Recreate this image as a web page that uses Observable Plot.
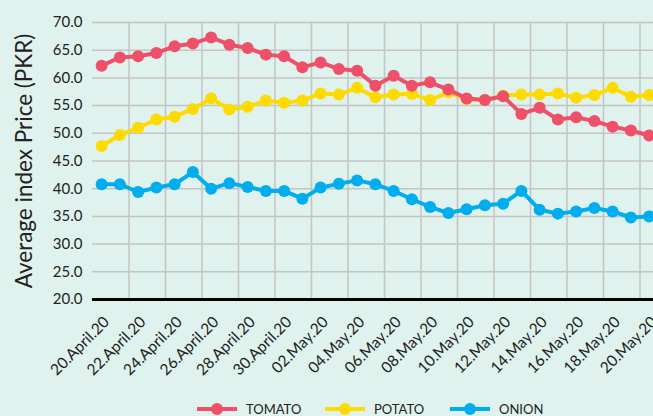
<!DOCTYPE html>
<html><head><meta charset="utf-8">
<script src="https://cdn.jsdelivr.net/npm/d3@7"></script>
<script src="https://cdn.jsdelivr.net/npm/@observablehq/plot@0.6"></script>
<style>
html,body{margin:0;padding:0;background:#dff2ed;overflow:hidden;width:653px;height:416px;font-family:Lato,sans-serif;}
#chart svg{display:block;}
#legend{position:absolute;left:0;top:400px;width:653px;height:18px;}
.item{position:absolute;top:0;height:18px;display:flex;align-items:center;font-size:13px;color:#222;}
.item svg{margin-right:9px;}
</style></head><body>
<div id="chart"></div>
<div id="legend"></div>
<script>
const dates = ["20.April.20","21.April.20","22.April.20","23.April.20","24.April.20","25.April.20","26.April.20","27.April.20","28.April.20","29.April.20","30.April.20",
"01.May.20","02.May.20","03.May.20","04.May.20","05.May.20","06.May.20","07.May.20","08.May.20","09.May.20","10.May.20",
"11.May.20","12.May.20","13.May.20","14.May.20","15.May.20","16.May.20","17.May.20","18.May.20","19.May.20","20.May.20"];
const tomato = [62.2,63.7,63.9,64.5,65.7,66.2,67.3,66.0,65.4,64.2,63.9,61.9,62.8,61.6,61.3,58.6,60.4,58.6,59.2,57.9,56.3,56.0,56.7,53.5,54.6,52.5,52.9,52.2,51.2,50.5,49.6];
const potato = [47.7,49.7,51.0,52.5,53.0,54.4,56.3,54.3,54.8,55.9,55.5,55.9,57.2,57.0,58.2,56.5,57.0,57.1,56.0,57.4,56.2,56.0,56.8,57.0,57.0,57.2,56.4,56.9,58.2,56.6,56.9];
const onion = [40.8,40.8,39.4,40.2,40.8,43.0,40.0,41.0,40.3,39.6,39.6,38.2,40.2,40.9,41.5,40.8,39.6,38.1,36.7,35.6,36.3,37.0,37.3,39.6,36.2,35.5,35.9,36.5,35.9,34.8,35.0];
const seriesNames = ["TOMATO","POTATO","ONION"];
const seriesColors = ["#ef4f68","#fedb00","#00adee"];
const yTicks = [20,25,30,35,40,45,50,55,60,65,70];
const yLabel = "Average index Price (PKR)";

const seriesValues = [tomato, potato, onion];
const rows = seriesValues.map((vals, s) => vals.map((v, i) => ({i, v, s: seriesNames[s]})));
const idx = dates.map((d, i) => i);
const labelIdx = idx.filter(i => i % 2 === 0);
const gridIdx = idx.filter(i => i % 2 === 1).map(i => i + 0.5);

const drawOrder = [2, 1, 0];
const seriesMarks = [];
for (const s of drawOrder) {
  seriesMarks.push(Plot.line(rows[s], {x: "i", y: "v", stroke: seriesColors[s], strokeWidth: 4}));
  seriesMarks.push(Plot.dot(rows[s], {x: "i", y: "v", fill: seriesColors[s], r: 6}));
}

const chart = Plot.plot({
  width: 653, height: 396,
  marginLeft: 92, marginTop: 22, marginBottom: 97, marginRight: 0,
  style: {background: "transparent", fontFamily: "Lato, sans-serif", color: "#222", overflow: "hidden"},
  x: {type: "linear", domain: [-0.5, 30.5], range: [92, 657.75], axis: null},
  y: {domain: [20, 70], axis: null},
  marks: [
    Plot.ruleY(yTicks, {stroke: "#c4c4c4", strokeWidth: 1.5}),
    Plot.ruleX(gridIdx, {y1: 20, y2: 70, stroke: "#c4c4c4", strokeWidth: 1.5}),
    Plot.axisY(yTicks, {tickSize: 0, tickPadding: 10, tickFormat: d => d.toFixed(1), fontSize: 15, label: null}),
    Plot.text([yLabel], {frameAnchor: "left", textAnchor: "middle", rotate: -90, dx: -68, fontSize: 22.5, fill: "#222"}),
    ...seriesMarks,
    Plot.ruleY([20], {stroke: "#000", strokeWidth: 3}),
    Plot.text(labelIdx, {x: d => d, y: 20, text: d => dates[d], rotate: -45, textAnchor: "end", dx: 5, dy: 20, fontSize: 15.5, fill: "#222"})
  ]
});
document.getElementById("chart").appendChild(chart);

const legend = document.getElementById("legend");
const legendLeft = [197, 325, 450];
seriesNames.forEach((name, s) => {
  const item = document.createElement("div");
  item.className = "item";
  item.style.left = legendLeft[s] + "px";
  item.innerHTML = `<svg width="40" height="14"><line x1="0" x2="40" y1="7" y2="7" stroke="${seriesColors[s]}" stroke-width="4"/><circle cx="20" cy="7" r="6" fill="${seriesColors[s]}"/></svg><span>${name}</span>`;
  legend.appendChild(item);
});
</script>
</body></html>
